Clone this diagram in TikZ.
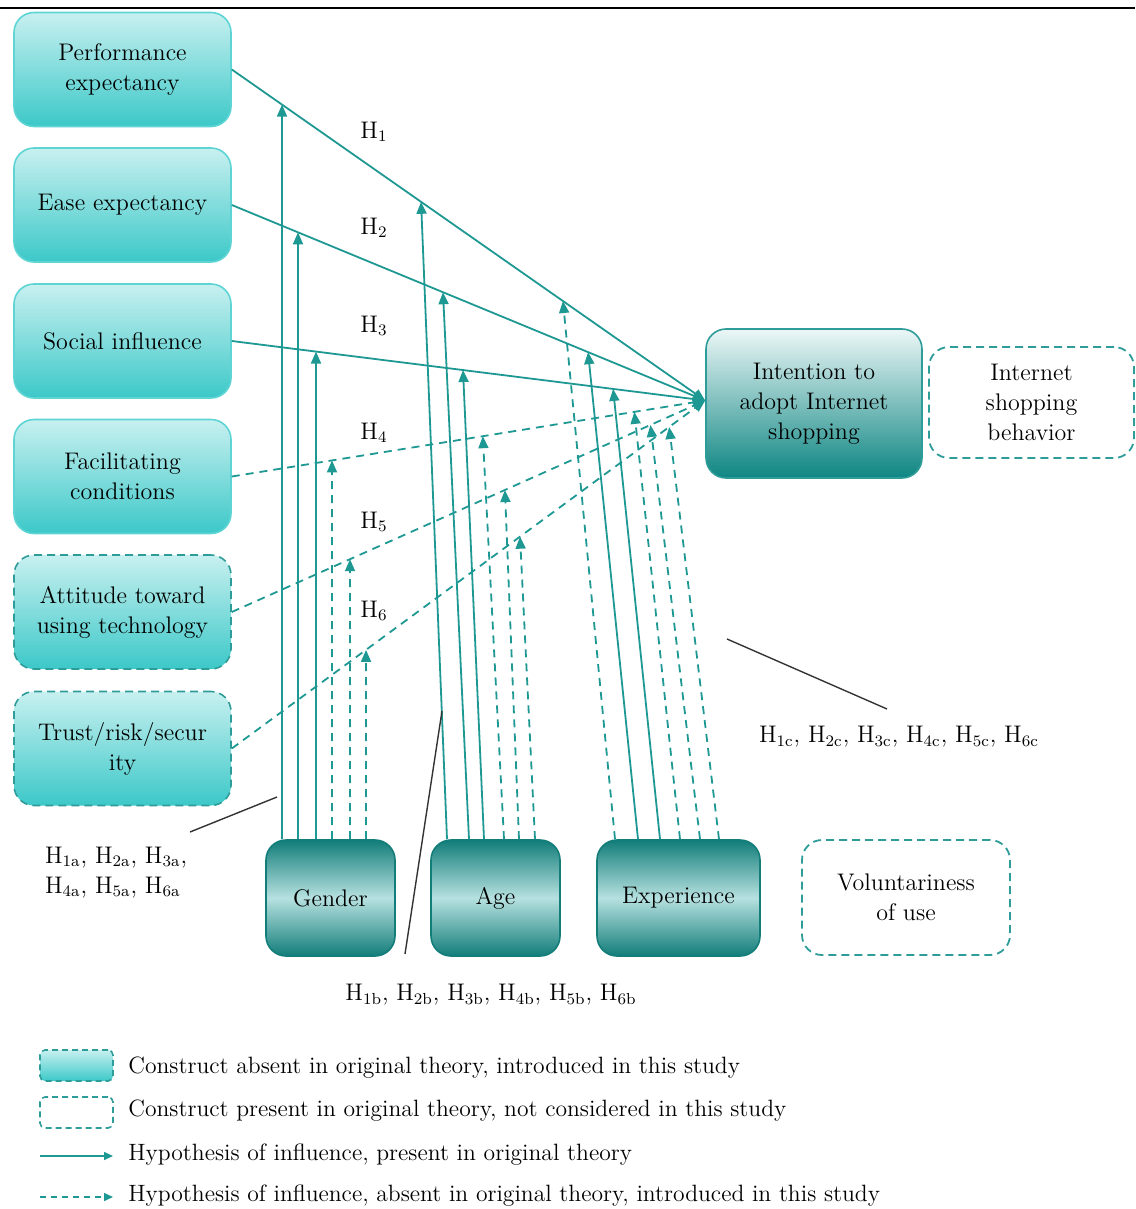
\documentclass[tikz,border=0pt]{standalone}
\usetikzlibrary{arrows.meta,calc}

\definecolor{flowc}{HTML}{1E9893}
\definecolor{cyanTop}{HTML}{C8F0F0}
\definecolor{cyanBot}{HTML}{3CC8C8}
\definecolor{cyanEdge}{HTML}{5ED4D4}
\definecolor{dashEdge}{HTML}{2E9C98}
\definecolor{intTop}{HTML}{ECF7F7}
\definecolor{intBot}{HTML}{0E8682}
\definecolor{modDark}{HTML}{127D79}
\definecolor{modLight}{HTML}{B6E1E0}
\definecolor{notec}{HTML}{333333}

\tikzset{
  txt/.style={font=\fontsize{12}{15}\selectfont, align=center},
  box/.style={txt, rounded corners=10pt, inner sep=2pt},
  construct/.style={box, draw=cyanEdge, line width=0.8pt,
    top color=cyanTop, bottom color=cyanBot,
    minimum width=108.5pt, minimum height=57pt},
  newconstruct/.style={box, draw=dashEdge, line width=0.8pt, dash pattern=on 4pt off 2.5pt,
    top color=cyanTop, bottom color=cyanBot,
    minimum width=108.5pt, minimum height=57pt},
  omitted/.style={box, draw=dashEdge, line width=0.9pt, dash pattern=on 4pt off 2.5pt, fill=white},
  target/.style={box, draw=dashEdge, line width=0.8pt,
    top color=intTop, bottom color=intBot,
    minimum width=108pt, minimum height=74.5pt},
  moderator/.style={box, draw=modDark, line width=0.8pt,
    top color=modDark, bottom color=modDark, middle color=modLight,
    minimum height=58pt},
  flow/.style={draw=flowc, line width=0.9pt, -{Triangle[length=6pt,width=5pt]}},
  newflow/.style={flow, dash pattern=on 4pt off 3pt},
  note/.style={draw=notec, line width=0.7pt},
  hlab/.style={font=\fontsize{12}{15}\selectfont},
  legtxt/.style={font=\fontsize{11.8}{14}\selectfont, anchor=west, inner sep=0pt},
}

\begin{document}
\begin{tikzpicture}[x=0.5pt, y=-0.5pt]
\useasboundingbox (0,0) rectangle (1135,1209);

% rule across the top
\draw[line width=1.3pt] (0,8) coordinate (ruleL) -- (1135,8) coordinate (ruleR);

% predictor constructs
\node[construct]    (pe) at (122.5,69.5)  {Performance\\expectancy};
\node[construct]    (ee) at (122.5,205)   {Ease expectancy};
\node[construct]    (si) at (122.5,341)   {Social influence};
\node[construct]    (fc) at (122.5,476.5) {Facilitating\\conditions};
\node[newconstruct] (at) at (122.5,612)   {Attitude toward\\using technology};
\node[newconstruct] (tr) at (122.5,748.5) {Trust/risk/secur\\ity};

% dependent and omitted constructs
\node[target] (int) at (814,403.5) {Intention to\\adopt Internet\\shopping};
\node[omitted, minimum width=102.5pt, minimum height=55.5pt] (isb) at (1031.5,402.5) {Internet\\shopping\\behavior};

% moderators
\node[moderator, minimum width=64.5pt] (gen) at (330.5,898) {Gender};
\node[moderator, minimum width=64.5pt] (age) at (495.5,898) {Age};
\node[moderator, minimum width=81.5pt] (exp) at (678.5,898) {Experience};
\node[omitted, minimum width=104pt, minimum height=57.5pt] (vol) at (906,897.5) {Voluntariness\\of use};

% main hypotheses
\coordinate (hub) at ($(int.west)+(0,-3)$);
\draw[flow]    (pe.east) -- (hub);
\draw[flow]    (ee.east) -- (hub);
\draw[flow]    (si.east) -- (hub);
\draw[newflow] (fc.east) -- (hub);
\draw[newflow] (at.east) -- (hub);
\draw[newflow] (tr.east) -- (hub);

\node[hlab] (h1) at (374,132) {H\textsubscript{1}};
\node[hlab] (h2) at (374,228) {H\textsubscript{2}};
\node[hlab] (h3) at (374,326) {H\textsubscript{3}};
\node[hlab] (h4) at (374,433) {H\textsubscript{4}};
\node[hlab] (h5) at (374,522) {H\textsubscript{5}};
\node[hlab] (h6) at (374,611) {H\textsubscript{6}};

% moderating arrows: foot on the moderator, aim point, target path
% Gender
\foreach \i/\dx/\ax/\ay/\src/\sty in {
  1/-48.5/282/100/pe/flow, 2/-32.5/298/230/ee/flow, 3/-14.5/316/350/si/flow,
  4/1.5/332/460/fc/newflow, 5/19.5/350/560/at/newflow, 6/35.5/366/647/tr/newflow}{
  \coordinate (g\i) at ($(gen.north)+(\dx,0)$);
  \coordinate (ga\i) at (\ax,\ay);
  \draw[\sty] (g\i) -- (intersection cs: first line={(g\i)--(ga\i)}, second line={(\src.east)--(hub)});
}
% Age
\foreach \i/\dx/\ax/\ay/\src/\sty in {
  1/-48.5/421/201/pe/flow, 2/-26.5/443/293/ee/flow, 3/-11.5/463/370/si/flow,
  4/8.5/483/440/fc/newflow, 5/23.5/505/493/at/newflow, 6/39.5/520/537/tr/newflow}{
  \coordinate (a\i) at ($(age.north)+(\dx,0)$);
  \coordinate (aa\i) at (\ax,\ay);
  \draw[\sty] (a\i) -- (intersection cs: first line={(a\i)--(aa\i)}, second line={(\src.east)--(hub)});
}
% Experience
\foreach \i/\dx/\ax/\ay/\src/\sty in {
  1/-63.5/563/302/pe/newflow, 2/-40.5/588/352/ee/flow, 3/-18.5/613/388/si/flow,
  4/1.5/635/418/fc/newflow, 5/21.5/651/430/at/newflow, 6/40.5/669/426/tr/newflow}{
  \coordinate (e\i) at ($(exp.north)+(\dx,0)$);
  \coordinate (ea\i) at (\ax,\ay);
  \draw[\sty] (e\i) -- (intersection cs: first line={(e\i)--(ea\i)}, second line={(\src.east)--(hub)});
}

% moderation hypothesis labels with leader lines
\node[hlab, anchor=west, align=left] (la) at (38,872.5)
  {H\textsubscript{1a}, H\textsubscript{2a}, H\textsubscript{3a},\\H\textsubscript{4a}, H\textsubscript{5a}, H\textsubscript{6a}};
\node[hlab] (lb) at (491,995)
  {H\textsubscript{1b}, H\textsubscript{2b}, H\textsubscript{3b}, H\textsubscript{4b}, H\textsubscript{5b}, H\textsubscript{6b}};
\node[hlab, anchor=west] (lc) at (752,737)
  {H\textsubscript{1c}, H\textsubscript{2c}, H\textsubscript{3c}, H\textsubscript{4c}, H\textsubscript{5c}, H\textsubscript{6c}};

\coordinate (laS) at (190,832); \coordinate (laE) at (277,797);
\coordinate (lbS) at (405,954); \coordinate (lbE) at (442,711);
\coordinate (lcS) at (887,709); \coordinate (lcE) at (727,639);
\draw[note] (laS) -- (laE);
\draw[note] (lbS) -- (lbE);
\draw[note] (lcS) -- (lcE);

% key
\node[box, rounded corners=2.5pt, minimum width=36.5pt, minimum height=15.5pt,
      draw=dashEdge, line width=0.8pt, dash pattern=on 3pt off 2pt,
      top color=cyanTop, bottom color=cyanBot] (k1) at (76.5,1065.5) {};
\node[box, rounded corners=2.5pt, minimum width=36.5pt, minimum height=15.5pt,
      draw=dashEdge, line width=0.8pt, dash pattern=on 3pt off 2pt, fill=white] (k2) at (76.5,1112.5) {};
\coordinate (k3a) at (40,1156); \coordinate (k3b) at (113,1156);
\coordinate (k4a) at (40,1197); \coordinate (k4b) at (113,1197);
\draw[draw=flowc, line width=0.8pt, -{Triangle[length=4.5pt,width=4pt]}] (k3a) -- (k3b);
\draw[draw=flowc, line width=0.8pt, dash pattern=on 3pt off 2.5pt, -{Triangle[length=4.5pt,width=4pt]}] (k4a) -- (k4b);

\node[legtxt] (t1) at (128,1068) {Construct absent in original theory, introduced in this study};
\node[legtxt] (t2) at (128,1111) {Construct present in original theory, not considered in this study};
\node[legtxt] (t3) at (128,1155) {Hypothesis of influence, present in original theory};
\node[legtxt] (t4) at (128,1196) {Hypothesis of influence, absent in original theory, introduced in this study};
\end{tikzpicture}
\end{document}
